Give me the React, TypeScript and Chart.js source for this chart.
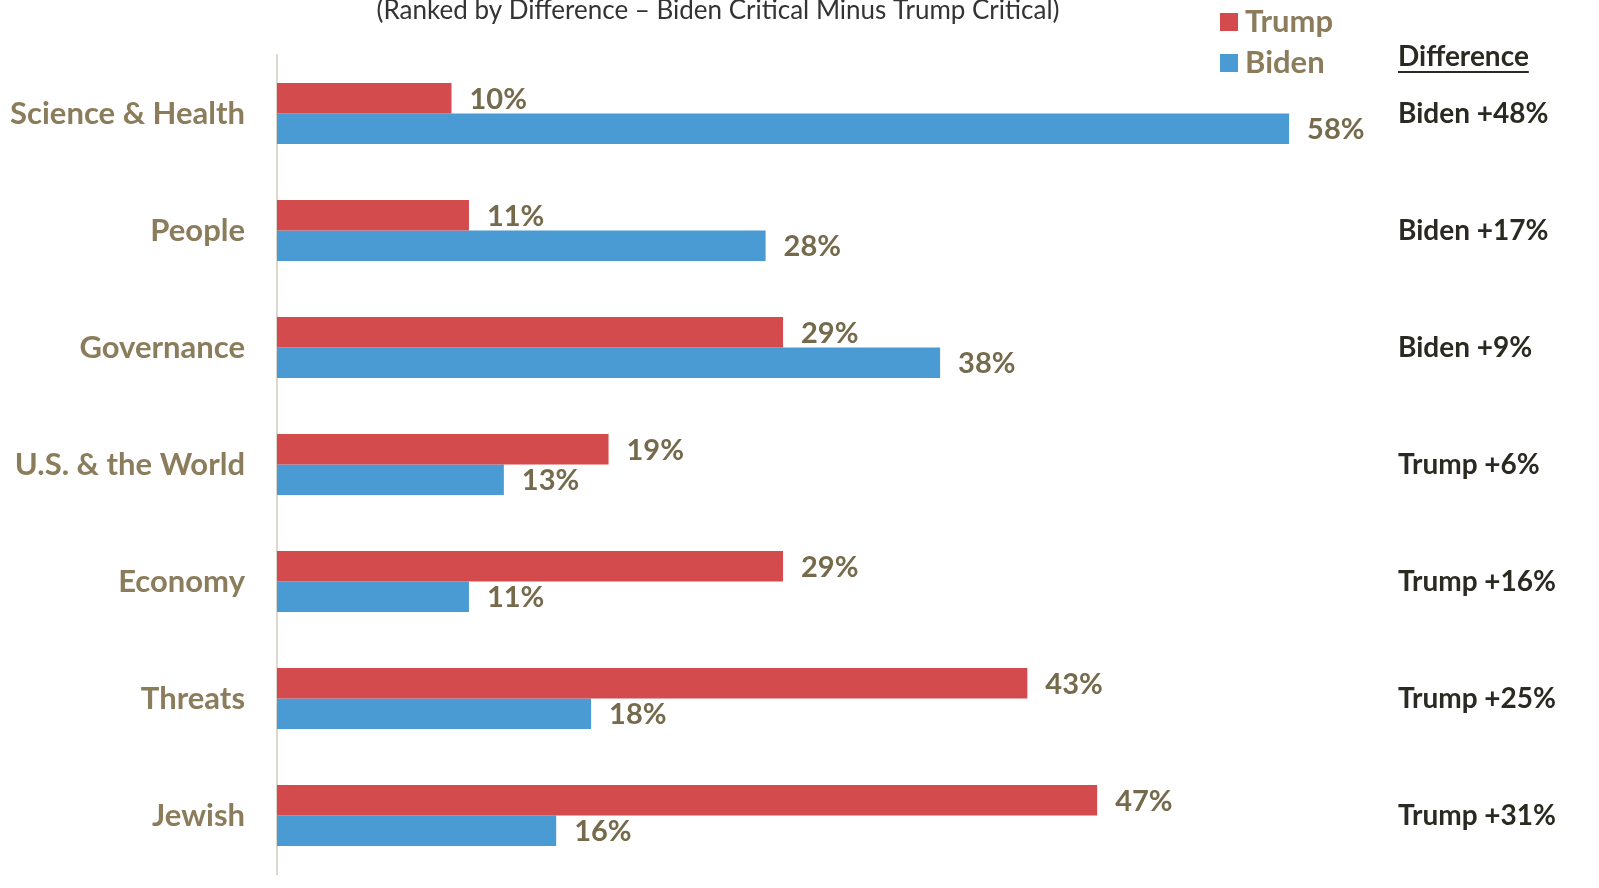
import React, { useEffect, useRef } from "react";
import { Chart, registerables } from "chart.js";

Chart.register(...registerables);

const categories = [
  "Science & Health",
  "People",
  "Governance",
  "U.S. & the World",
  "Economy",
  "Threats",
  "Jewish",
];
const trumpValues = [10, 11, 29, 19, 29, 43, 47];
const bidenValues = [58, 28, 38, 13, 11, 18, 16];
const differenceLabels = [
  "Biden +48%",
  "Biden +17%",
  "Biden +9%",
  "Trump +6%",
  "Trump +16%",
  "Trump +25%",
  "Trump +31%",
];
const titleText = "(Ranked by Difference \u2013 Biden Critical Minus Trump Critical)";
const differenceHeader = "Difference";

const RED = "#D44B4E";
const BLUE = "#4A9AD3";
const CAT_COLOR = "#8B7D5B";
const VAL_COLOR = "#766A4C";
const DIFF_COLOR = "#2B2A22";
const FONT = "Lato, 'Open Sans', sans-serif";

const overlayPlugin = {
  id: "overlay",
  afterDatasetsDraw(chart: any) {
    const ctx = chart.ctx as CanvasRenderingContext2D;
    ctx.save();
    // value labels
    ctx.font = `bold 29px ${FONT}`;
    ctx.fillStyle = VAL_COLOR;
    ctx.textAlign = "left";
    ctx.textBaseline = "middle";
    chart.data.datasets.forEach((ds: any, di: number) => {
      const meta = chart.getDatasetMeta(di);
      meta.data.forEach((bar: any, i: number) => {
        ctx.fillText(`${ds.data[i]}%`, bar.x + 18, bar.y + 1);
      });
    });
    // difference column
    const yScale = chart.scales.y;
    ctx.fillStyle = DIFF_COLOR;
    ctx.font = `bold 28px ${FONT}`;
    differenceLabels.forEach((t, i) => {
      ctx.fillText(t, 1398, yScale.getPixelForValue(i));
    });
    // header
    ctx.font = `bold 28px ${FONT}`;
    ctx.fillText(differenceHeader, 1398, 57);
    const w = ctx.measureText(differenceHeader).width;
    ctx.fillRect(1398, 71, w, 2);
    // title
    ctx.font = `26px ${FONT}`;
    ctx.fillStyle = "#333333";
    ctx.textAlign = "center";
    ctx.fillText(titleText, 718, 11);
    // legend
    ctx.textAlign = "left";
    ctx.font = `bold 31px ${FONT}`;
    const legend = [
      { label: "Trump", color: RED, y: 22 },
      { label: "Biden", color: BLUE, y: 63 },
    ];
    legend.forEach((l) => {
      ctx.fillStyle = l.color;
      ctx.fillRect(1220, l.y - 9, 18, 18);
      ctx.fillStyle = CAT_COLOR;
      ctx.fillText(l.label, 1245, l.y);
    });
    ctx.restore();
  },
};

export default function App() {
  const ref = useRef<HTMLCanvasElement | null>(null);
  useEffect(() => {
    if (!ref.current) return;
    const chart = new Chart(ref.current, {
      type: "bar",
      data: {
        labels: categories,
        datasets: [
          {
            label: "Trump",
            data: trumpValues,
            backgroundColor: RED,
            categoryPercentage: 0.52,
            barPercentage: 1.0,
          },
          {
            label: "Biden",
            data: bidenValues,
            backgroundColor: BLUE,
            categoryPercentage: 0.52,
            barPercentage: 1.0,
          },
        ],
      },
      options: {
        indexAxis: "y",
        animation: false,
        responsive: false,
        devicePixelRatio: 1,
        layout: { padding: { left: 0, right: 275, top: 55, bottom: 14 } },
        plugins: {
          legend: { display: false },
          tooltip: { enabled: false },
        },
        scales: {
          x: {
            display: false,
            min: 0,
            max: 60,
          },
          y: {
            afterFit: (scale: any) => {
              scale.width = 277;
              scale.paddingTop = 0;
              scale.paddingBottom = 0;
            },
            grid: { display: false, drawTicks: false },
            border: { display: true, color: "#DCD8CD", width: 2 },
            ticks: {
              padding: 32,
              color: CAT_COLOR,
              font: { family: FONT, size: 31, weight: "bold" },
            },
          },
        },
      },
      plugins: [overlayPlugin],
    });
    return () => chart.destroy();
  }, []);
  return (
    <div style={{ position: "absolute", left: 0, top: 0, width: 1599, height: 888, background: "#fff" }}>
      <canvas ref={ref} width={1599} height={888} style={{ width: 1599, height: 888 }} />
    </div>
  );
}
